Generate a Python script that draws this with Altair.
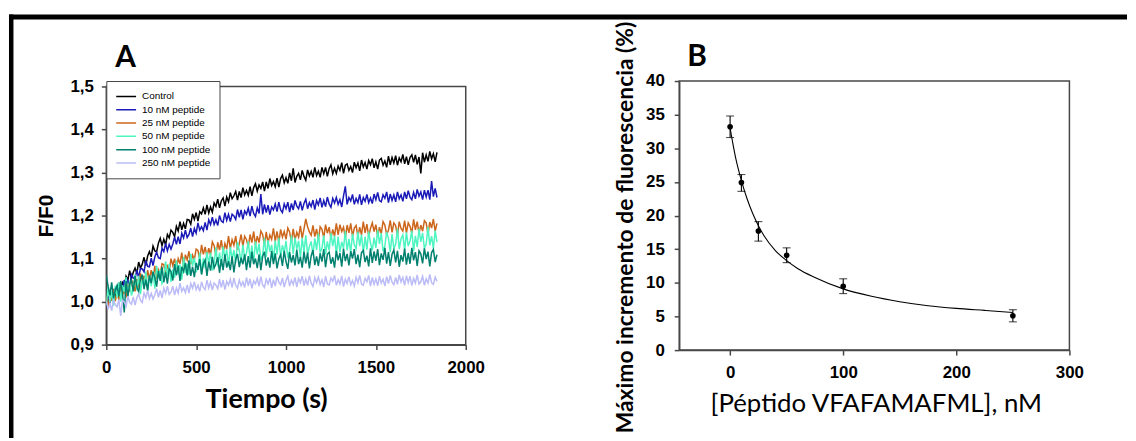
import altair as alt
import pandas as pd

# ---------------- Panel A data (F/F0 vs time, one reading every 10 s) ----------------
times = list(range(0, 1841, 10))

series_names = ["Control", "10 nM peptide", "25 nM peptide", "50 nM peptide",
                "100 nM peptide", "250 nM peptide"]
series_colors = ["#000000", "#1a1ab8", "#cc661a", "#4df5c0", "#00806e", "#bbbbf7"]

control = [1.004, 0.996, 1.021, 1.011, 1.025, 1.010, 1.034, 1.042, 1.030, 1.044,
           1.034, 1.059, 1.050, 1.072, 1.053, 1.068, 1.078, 1.066, 1.092, 1.078,
           1.087, 1.103, 1.084, 1.106, 1.116, 1.104, 1.129, 1.118, 1.116, 1.136,
           1.147, 1.130, 1.145, 1.132, 1.156, 1.148, 1.166, 1.161, 1.151, 1.175,
           1.164, 1.186, 1.167, 1.182, 1.169, 1.191, 1.190, 1.180, 1.204, 1.191,
           1.207, 1.187, 1.209, 1.204, 1.218, 1.203, 1.225, 1.206, 1.220, 1.208,
           1.229, 1.221, 1.238, 1.218, 1.234, 1.241, 1.222, 1.243, 1.232, 1.253,
           1.239, 1.246, 1.256, 1.236, 1.256, 1.242, 1.265, 1.248, 1.258, 1.247,
           1.267, 1.246, 1.265, 1.274, 1.257, 1.271, 1.263, 1.278, 1.257, 1.278,
           1.263, 1.286, 1.270, 1.279, 1.267, 1.287, 1.266, 1.286, 1.294, 1.276,
           1.288, 1.275, 1.299, 1.281, 1.310, 1.277, 1.291, 1.298, 1.283, 1.305,
           1.291, 1.282, 1.306, 1.292, 1.303, 1.289, 1.312, 1.293, 1.303, 1.289,
           1.312, 1.297, 1.312, 1.291, 1.309, 1.318, 1.297, 1.310, 1.298, 1.315,
           1.305, 1.323, 1.298, 1.317, 1.320, 1.305, 1.314, 1.300, 1.324, 1.311,
           1.322, 1.304, 1.329, 1.313, 1.323, 1.308, 1.328, 1.318, 1.332, 1.311,
           1.325, 1.308, 1.329, 1.333, 1.317, 1.327, 1.312, 1.338, 1.318, 1.335,
           1.322, 1.339, 1.317, 1.334, 1.325, 1.342, 1.320, 1.337, 1.318, 1.335,
           1.341, 1.324, 1.341, 1.319, 1.336, 1.298, 1.346, 1.324, 1.341, 1.326,
           1.349, 1.332, 1.344, 1.325, 1.347]
nm10 = [0.996, 1.013, 0.996, 1.014, 1.008, 1.032, 1.017, 1.017, 1.037, 1.031,
        1.050, 1.033, 1.049, 1.036, 1.063, 1.055, 1.053, 1.073, 1.056, 1.077,
        1.076, 1.069, 1.095, 1.082, 1.081, 1.101, 1.084, 1.104, 1.115, 1.102,
        1.100, 1.124, 1.116, 1.135, 1.118, 1.133, 1.122, 1.134, 1.150, 1.133,
        1.151, 1.134, 1.159, 1.148, 1.166, 1.149, 1.156, 1.171, 1.151, 1.170,
        1.159, 1.183, 1.166, 1.174, 1.165, 1.184, 1.166, 1.190, 1.179, 1.196,
        1.179, 1.190, 1.177, 1.200, 1.187, 1.184, 1.207, 1.189, 1.203, 1.186,
        1.203, 1.199, 1.191, 1.214, 1.196, 1.213, 1.191, 1.211, 1.203, 1.217,
        1.199, 1.222, 1.205, 1.198, 1.218, 1.205, 1.250, 1.203, 1.226, 1.207,
        1.224, 1.202, 1.220, 1.213, 1.227, 1.209, 1.231, 1.213, 1.207, 1.227,
        1.216, 1.231, 1.208, 1.228, 1.213, 1.235, 1.222, 1.216, 1.233, 1.212,
        1.228, 1.238, 1.216, 1.230, 1.221, 1.236, 1.214, 1.235, 1.225, 1.241,
        1.219, 1.235, 1.221, 1.243, 1.227, 1.219, 1.240, 1.229, 1.242, 1.226,
        1.237, 1.220, 1.246, 1.268, 1.226, 1.242, 1.234, 1.249, 1.226, 1.240,
        1.230, 1.249, 1.225, 1.242, 1.233, 1.249, 1.230, 1.241, 1.228, 1.250,
        1.237, 1.254, 1.235, 1.232, 1.248, 1.240, 1.255, 1.230, 1.250, 1.235,
        1.248, 1.232, 1.255, 1.239, 1.248, 1.233, 1.255, 1.239, 1.258, 1.243,
        1.237, 1.254, 1.239, 1.261, 1.245, 1.255, 1.237, 1.259, 1.243, 1.259,
        1.237, 1.280, 1.244, 1.263, 1.242]
nm25 = [1.012, 0.987, 1.015, 1.002, 1.028, 1.001, 1.023, 1.004, 1.036, 1.015,
        1.029, 1.010, 1.042, 1.023, 1.049, 1.044, 1.024, 1.053, 1.033, 1.066,
        1.046, 1.060, 1.040, 1.073, 1.053, 1.073, 1.053, 1.083, 1.052, 1.074,
        1.064, 1.088, 1.086, 1.060, 1.086, 1.070, 1.100, 1.084, 1.100, 1.076,
        1.100, 1.088, 1.114, 1.081, 1.109, 1.097, 1.117, 1.087, 1.108, 1.098,
        1.122, 1.119, 1.097, 1.132, 1.110, 1.127, 1.104, 1.124, 1.109, 1.139,
        1.130, 1.107, 1.138, 1.120, 1.143, 1.114, 1.135, 1.122, 1.152, 1.123,
        1.144, 1.131, 1.152, 1.120, 1.135, 1.156, 1.129, 1.152, 1.144, 1.127,
        1.156, 1.137, 1.163, 1.132, 1.152, 1.137, 1.164, 1.156, 1.131, 1.162,
        1.136, 1.155, 1.145, 1.170, 1.140, 1.163, 1.137, 1.168, 1.150, 1.163,
        1.145, 1.171, 1.162, 1.138, 1.169, 1.143, 1.161, 1.150, 1.176, 1.147,
        1.169, 1.192, 1.174, 1.162, 1.154, 1.177, 1.151, 1.169, 1.143, 1.174,
        1.168, 1.148, 1.179, 1.159, 1.173, 1.147, 1.168, 1.152, 1.182, 1.155,
        1.179, 1.163, 1.173, 1.148, 1.178, 1.160, 1.182, 1.152, 1.171, 1.177,
        1.151, 1.173, 1.155, 1.186, 1.160, 1.180, 1.152, 1.170, 1.183, 1.163,
        1.179, 1.151, 1.173, 1.158, 1.186, 1.178, 1.156, 1.166, 1.189, 1.161,
        1.183, 1.177, 1.153, 1.186, 1.170, 1.164, 1.188, 1.160, 1.183, 1.175,
        1.159, 1.191, 1.167, 1.186, 1.158, 1.178, 1.164, 1.188, 1.183, 1.157,
        1.185, 1.171, 1.192, 1.164, 1.182]
nm50 = [0.992, 1.036, 0.999, 1.024, 0.990, 1.037, 1.009, 1.044, 1.000, 1.038,
        1.022, 1.057, 1.014, 1.048, 1.014, 1.028, 1.063, 1.026, 1.060, 1.017,
        1.052, 1.036, 1.070, 1.027, 1.061, 1.036, 1.071, 1.030, 1.083, 1.054,
        1.074, 1.042, 1.050, 1.093, 1.059, 1.087, 1.046, 1.075, 1.055, 1.096,
        1.064, 1.086, 1.051, 1.104, 1.066, 1.088, 1.062, 1.111, 1.083, 1.102,
        1.070, 1.077, 1.114, 1.064, 1.101, 1.078, 1.115, 1.089, 1.114, 1.073,
        1.089, 1.126, 1.082, 1.114, 1.082, 1.128, 1.099, 1.121, 1.081, 1.127,
        1.098, 1.120, 1.090, 1.139, 1.119, 1.090, 1.132, 1.100, 1.113, 1.140,
        1.099, 1.130, 1.091, 1.140, 1.110, 1.135, 1.096, 1.109, 1.148, 1.104,
        1.143, 1.116, 1.132, 1.096, 1.142, 1.109, 1.148, 1.104, 1.131, 1.114,
        1.141, 1.102, 1.118, 1.154, 1.110, 1.149, 1.122, 1.141, 1.102, 1.148,
        1.115, 1.154, 1.110, 1.128, 1.140, 1.108, 1.147, 1.120, 1.159, 1.115,
        1.124, 1.154, 1.110, 1.140, 1.119, 1.159, 1.129, 1.153, 1.108, 1.151,
        1.115, 1.139, 1.124, 1.164, 1.119, 1.146, 1.113, 1.158, 1.132, 1.123,
        1.162, 1.129, 1.156, 1.112, 1.151, 1.121, 1.163, 1.136, 1.119, 1.149,
        1.125, 1.167, 1.134, 1.159, 1.117, 1.129, 1.162, 1.147, 1.115, 1.157,
        1.124, 1.133, 1.169, 1.122, 1.146, 1.155, 1.119, 1.161, 1.129, 1.141,
        1.165, 1.117, 1.153, 1.127, 1.169, 1.139, 1.160, 1.124, 1.134, 1.173,
        1.131, 1.152, 1.123, 1.165, 1.138]
nm100 = [1.060, 1.036, 1.015, 1.045, 1.007, 1.027, 1.038, 1.012, 1.048, 1.019,
         0.975, 1.048, 1.011, 1.041, 1.050, 1.024, 1.060, 1.034, 1.023, 1.052,
         1.063, 1.029, 1.051, 1.025, 1.061, 1.043, 1.069, 1.056, 1.035, 1.071,
         1.048, 1.081, 1.045, 1.068, 1.042, 1.076, 1.070, 1.049, 1.087, 1.061,
         1.084, 1.048, 1.081, 1.070, 1.090, 1.061, 1.096, 1.060, 1.081, 1.057,
         1.090, 1.074, 1.099, 1.063, 1.088, 1.097, 1.060, 1.093, 1.072, 1.104,
         1.078, 1.088, 1.103, 1.067, 1.099, 1.073, 1.110, 1.079, 1.094, 1.073,
         1.105, 1.068, 1.098, 1.111, 1.080, 1.102, 1.087, 1.110, 1.073, 1.106,
         1.079, 1.116, 1.087, 1.100, 1.078, 1.110, 1.073, 1.105, 1.116, 1.084,
         1.103, 1.079, 1.118, 1.087, 1.112, 1.077, 1.099, 1.109, 1.083, 1.118,
         1.093, 1.076, 1.115, 1.091, 1.108, 1.084, 1.121, 1.087, 1.104, 1.079,
         1.116, 1.089, 1.114, 1.077, 1.106, 1.120, 1.085, 1.105, 1.083, 1.112,
         1.093, 1.122, 1.080, 1.110, 1.115, 1.088, 1.103, 1.079, 1.118, 1.096,
         1.113, 1.081, 1.123, 1.094, 1.111, 1.084, 1.117, 1.100, 1.122, 1.087,
         1.109, 1.080, 1.114, 1.119, 1.092, 1.107, 1.082, 1.124, 1.090, 1.117,
         1.095, 1.122, 1.085, 1.112, 1.097, 1.125, 1.088, 1.115, 1.083, 1.110,
         1.120, 1.091, 1.118, 1.081, 1.108, 1.093, 1.123, 1.086, 1.113, 1.088,
         1.125, 1.096, 1.115, 1.083, 1.118, 1.111, 1.089, 1.124, 1.099, 1.116,
         1.082, 1.114, 1.121, 1.092, 1.109]
nm250 = [1.002, 0.982, 0.996, 0.979, 1.003, 0.993, 0.988, 1.005, 0.967, 1.003,
         0.999, 0.989, 1.013, 0.998, 0.994, 1.011, 0.992, 1.009, 1.018, 1.003,
         0.998, 1.020, 1.009, 1.026, 1.007, 1.019, 1.006, 1.016, 1.030, 1.010,
         1.026, 1.008, 1.031, 1.019, 1.036, 1.017, 1.022, 1.036, 1.015, 1.032,
         1.020, 1.043, 1.024, 1.032, 1.021, 1.039, 1.020, 1.042, 1.031, 1.046,
         1.028, 1.038, 1.024, 1.046, 1.033, 1.028, 1.050, 1.032, 1.045, 1.027,
         1.043, 1.038, 1.030, 1.052, 1.033, 1.050, 1.028, 1.047, 1.038, 1.052,
         1.033, 1.055, 1.038, 1.031, 1.050, 1.037, 1.046, 1.033, 1.056, 1.037,
         1.053, 1.031, 1.048, 1.041, 1.054, 1.036, 1.058, 1.039, 1.033, 1.052,
         1.041, 1.055, 1.032, 1.051, 1.036, 1.058, 1.045, 1.039, 1.055, 1.034,
         1.049, 1.059, 1.036, 1.050, 1.040, 1.056, 1.034, 1.054, 1.044, 1.059,
         1.037, 1.053, 1.038, 1.060, 1.043, 1.035, 1.056, 1.044, 1.057, 1.040,
         1.051, 1.034, 1.059, 1.041, 1.039, 1.055, 1.047, 1.061, 1.038, 1.051,
         1.041, 1.060, 1.035, 1.052, 1.042, 1.058, 1.039, 1.049, 1.036, 1.057,
         1.044, 1.061, 1.041, 1.038, 1.054, 1.046, 1.061, 1.036, 1.056, 1.040,
         1.053, 1.037, 1.059, 1.043, 1.052, 1.036, 1.058, 1.042, 1.061, 1.045,
         1.039, 1.056, 1.040, 1.062, 1.046, 1.056, 1.038, 1.060, 1.044, 1.059,
         1.037, 1.054, 1.043, 1.062, 1.041, 1.046, 1.059, 1.038, 1.053, 1.043,
         1.063, 1.044, 1.040, 1.057, 1.047]

a_x_ticks = [0, 500, 1000, 1500, 2000]
a_y_ticks = [0.9, 1.0, 1.1, 1.2, 1.3, 1.4, 1.5]

# ---------------- Panel B data ----------------
conc = [0, 10, 25, 50, 100, 250]
resp = [33.2, 24.9, 17.7, 14.1, 9.5, 5.1]
err_lo = [31.6, 23.6, 16.2, 13.0, 8.4, 4.2]
err_hi = [34.8, 26.1, 19.1, 15.2, 10.6, 6.0]
fit_x = [0, 5, 10, 15, 20, 25, 30, 40, 50, 60, 75, 100, 125, 150, 175, 200, 225, 250]
fit_y = [33.0, 28.5, 25.2, 22.5, 20.3, 18.5, 17.0, 14.8, 13.3, 12.1, 10.8, 9.1,
         8.0, 7.2, 6.6, 6.2, 5.9, 5.6]
b_x_ticks = [0, 100, 200, 300]
b_y_ticks = [0, 5, 10, 15, 20, 25, 30, 35, 40]

# ---------------- build tables ----------------
rows = []
for name, vals in zip(series_names, [control, nm10, nm25, nm50, nm100, nm250]):
    for t, v in zip(times, vals):
        rows.append({"t": t, "ff0": v, "series": name})
dfA = pd.DataFrame(rows)
dfB = pd.DataFrame({"conc": conc, "resp": resp, "lo": err_lo, "hi": err_hi})
dfFit = pd.DataFrame({"x": fit_x, "y": fit_y})
one = pd.DataFrame({"k": [0]})

FRAME = "#474747"
TICKFONT = "Liberation Sans"
TITLEFONT = "Lato"

# ---------------- Panel A ----------------
WA, HA = 362, 260
axA_x = alt.Axis(values=a_x_ticks, format="d", labelPadding=10, labelFlush=False,
                 title="Tiempo (s)", titleFont=TITLEFONT, titleFontSize=27,
                 titleFontWeight="bold", titleX=161, titleY=63,
                 titleBaseline="alphabetic", titleAlign="center")
axA_y = alt.Axis(values=a_y_ticks, labelPadding=8, labelFlush=False,
                 labelExpr="replace(format(datum.value, '.1f'), '.', ',')",
                 title="F/F0", titleFont=TICKFONT, titleFontSize=21,
                 titleFontWeight="bold", titleAngle=270, titleX=-60, titleY=130,
                 titleBaseline="middle", titleAlign="center")

linesA = alt.Chart(dfA).mark_line(strokeWidth=1.5, clip=True).encode(
    x=alt.X("t:Q", scale=alt.Scale(domain=[0, 2000], nice=False), axis=axA_x),
    y=alt.Y("ff0:Q", scale=alt.Scale(domain=[0.9, 1.5], nice=False), axis=axA_y),
    color=alt.Color("series:N",
                    scale=alt.Scale(domain=series_names, range=series_colors),
                    legend=alt.Legend(title=None, orient="none", legendX=0, legendY=0,
                                      symbolType="stroke", symbolSize=400,
                                      symbolStrokeWidth=1.5, clipHeight=13,
                                      rowPadding=0.4, padding=9, labelOffset=5,
                                      labelFont=TICKFONT, labelFontSize=10,
                                      labelFontWeight="normal", labelColor="black",
                                      fillColor="white", strokeColor=FRAME)),
)

labelA = alt.Chart(one).mark_text(text="A", font=TITLEFONT, fontSize=30,
                                  fontWeight="bold", align="left",
                                  baseline="alphabetic", color="black").encode(
    x=alt.value(9), y=alt.value(-20))

# outer figure frame (thick black border on the top and left)
top_border = alt.Chart(one).mark_rect(color="black").encode(
    x=alt.value(-98), x2=alt.value(1028), y=alt.value(-72.5), y2=alt.value(-67.5))
left_border = alt.Chart(one).mark_rect(color="black").encode(
    x=alt.value(-98), x2=alt.value(-93.5), y=alt.value(-72.5), y2=alt.value(354))

panelA = alt.layer(linesA, labelA, top_border, left_border).properties(width=WA, height=HA)

# ---------------- Panel B ----------------
WB, HB = 393, 271
scBx = alt.Scale(domain=[-45, 300], nice=False)
scBy = alt.Scale(domain=[0, 40], nice=False)
axB_x = alt.Axis(values=b_x_ticks, format="d", labelPadding=10, labelFlush=False,
                 title="[Péptido VFAFAMAFML], nM", titleFont=TITLEFONT,
                 titleFontSize=26, titleFontWeight="normal", titleX=198, titleY=62,
                 titleBaseline="alphabetic", titleAlign="center")
axB_y = alt.Axis(values=b_y_ticks, format="d", labelPadding=10, labelFlush=False,
                 title="Máximo incremento de fluorescencia (%)", titleFont=TITLEFONT,
                 titleFontSize=23, titleFontWeight="bold", titleAngle=270,
                 titleX=-54, titleY=147, titleBaseline="middle", titleAlign="center")

fitB = alt.Chart(dfFit).mark_line(color="black", strokeWidth=1.1,
                                  interpolate="monotone").encode(
    x=alt.X("x:Q", scale=scBx, axis=axB_x),
    y=alt.Y("y:Q", scale=scBy, axis=axB_y))
errB = alt.Chart(dfB).mark_errorbar(color="black", thickness=1.1,
                                    ticks={"size": 8}).encode(
    x=alt.X("conc:Q", scale=scBx, axis=axB_x),
    y=alt.Y("lo:Q", scale=scBy, axis=axB_y),
    y2="hi:Q")
ptsB = alt.Chart(dfB).mark_circle(color="black", size=32, opacity=1).encode(
    x=alt.X("conc:Q", scale=scBx, axis=axB_x),
    y=alt.Y("resp:Q", scale=scBy, axis=axB_y))
labelB = alt.Chart(one).mark_text(text="B", font=TITLEFONT, fontSize=30,
                                  fontWeight="bold", align="left",
                                  baseline="alphabetic", color="black").encode(
    x=alt.value(8), y=alt.value(-15))

panelB = alt.layer(fitB, errB, ptsB, labelB).properties(width=WB, height=HB)

chart = alt.hconcat(panelA, panelB, spacing=215, bounds="flush", center=True).properties(
    padding={"left": 0, "top": 4, "right": 0, "bottom": 0},
    background="white",
).configure_view(
    stroke=FRAME, strokeWidth=1.5
).configure_axis(
    grid=False, labelFont=TICKFONT, labelFontSize=17, labelFontWeight="bold",
    labelColor="black", tickSize=5, tickWidth=1.5, tickColor=FRAME,
    domainColor=FRAME, domainWidth=1.5, titleColor="black", labelOverlap=False,
)

chart.save("out.html", embed_options={"renderer": "svg", "actions": False})
